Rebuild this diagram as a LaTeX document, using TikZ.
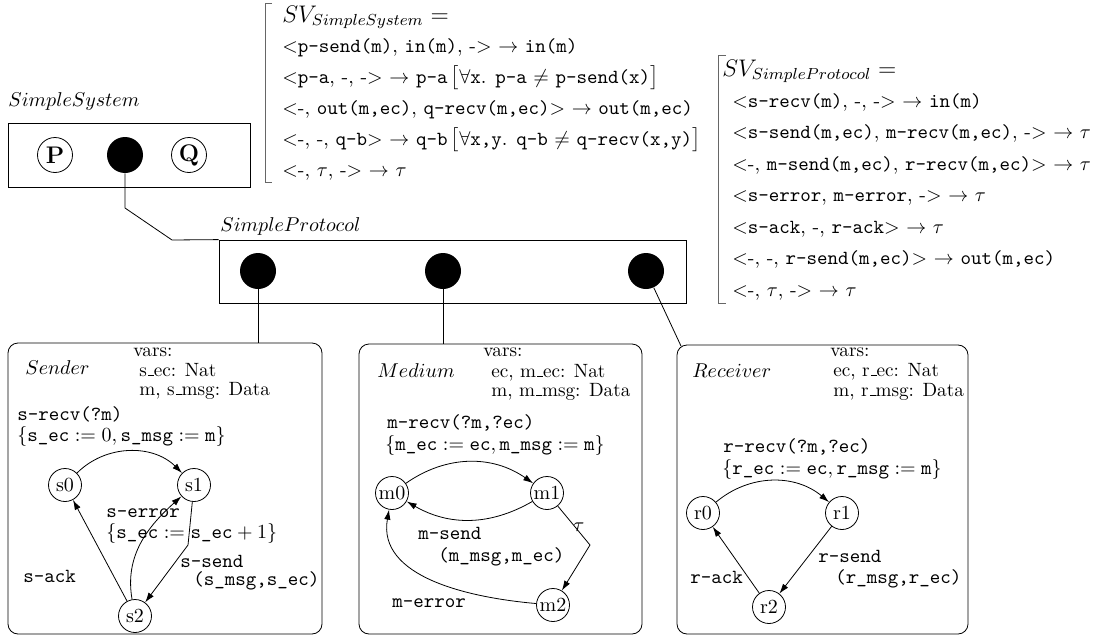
\documentclass[tikz,border=0pt]{standalone}
\usetikzlibrary{automata,arrows.meta}

% short underscore for the roman variable lists
\newcommand{\varus}{\leavevmode\kern.06em\vbox{\hrule width.3em}}

\begin{document}
\begin{tikzpicture}[x=0.5pt, y=-0.5pt, >={Latex[length=5pt,width=3.2pt]},
    loc/.style={state, minimum size=16.5pt, inner sep=0pt},
    port/.style={circle, fill=black, minimum size=18pt, inner sep=0pt},
    proc/.style={circle, draw, minimum size=17.5pt, inner sep=0pt, font=\large\bfseries},
    compbox/.style={draw, rounded corners=5pt},
    lbl/.style={anchor=base west, inner sep=0pt},
    vars/.style={lbl, font=\fontsize{9.6pt}{11pt}\selectfont},
    svbar/.style={draw=black!60}]

   \useasboundingbox (0,0) rectangle (1103,637);

   % the system and its two components
   \node[lbl] (sysName) at (8,106) {$SimpleSystem$};
   \node[draw,
         minimum width=121pt,
         minimum height=32pt] (sys) at (129,155) {};
   \node[proc] (p) at (55,155) {P};
   \node[port] (hub) at (125,155) {};
   \node[proc] (q) at (189,155) {Q};

   \node[lbl] (protoName) at (220,231) {$SimpleProtocol$};
   \node[draw,
         minimum width=233.5pt,
         minimum height=31.5pt] (proto) at (452.5,271.5) {};
   \node[port] (ps) at (258,271) {};
   \node[port] (pm) at (443,271) {};
   \node[port] (pr) at (646,271) {};

   \coordinate (hubDown) at (125,208);
   \coordinate (hubBend) at (172,240);
   \draw (hub) -- (hubDown) -- (hubBend) -- (proto.north west);

   % synchronisation vectors
   \draw[svbar] (272,3) -- (265,3) -- (265,182) -- (272,182);
   \node[lbl, font=\large] (sysSV) at (282,22) {$SV_{SimpleSystem} =$};
   \node[lbl] (sysR1) at (282,52) {$<$\texttt{p-send(m)}, \texttt{in(m)}, -$>$ $\rightarrow$ \texttt{in(m)}};
   \node[lbl] (sysR2) at (282,83) {$<$\texttt{p-a}, -, -$>$ $\rightarrow$ \texttt{p-a}\,$\bigl[\forall$\texttt{x}. \texttt{p-a} $\neq$ \texttt{p-send(x)}$\bigr]$};
   \node[lbl] (sysR3) at (282,114) {$<$-, \texttt{out(m,ec)}, \texttt{q-recv(m,ec)}$>$ $\rightarrow$ \texttt{out(m,ec)}};
   \node[lbl] (sysR4) at (282,145) {$<$-, -, \texttt{q-b}$>$ $\rightarrow$ \texttt{q-b}\,$\bigl[\forall$\texttt{x,y}. \texttt{q-b} $\neq$ \texttt{q-recv(x,y)}$\bigr]$};
   \node[lbl] (sysR5) at (282,176) {$<$-, $\tau$, -$>$ $\rightarrow$ $\tau$};

   \draw[svbar] (726,55) -- (718,55) -- (718,303) -- (726,303);
   \node[lbl, font=\large] (protoSV) at (722,76) {$SV_{SimpleProtocol} =$};
   \node[lbl] (protoR1) at (732,107) {$<$\texttt{s-recv(m)}, -, -$>$ $\rightarrow$ \texttt{in(m)}};
   \node[lbl] (protoR2) at (732,138.5) {$<$\texttt{s-send(m,ec)}, \texttt{m-recv(m,ec)}, -$>$ $\rightarrow$ $\tau$};
   \node[lbl] (protoR3) at (732,170) {$<$-, \texttt{m-send(m,ec)}, \texttt{r-recv(m,ec)}$>$ $\rightarrow$ $\tau$};
   \node[lbl] (protoR4) at (732,201.5) {$<$\texttt{s-error}, \texttt{m-error}, -$>$ $\rightarrow$ $\tau$};
   \node[lbl] (protoR5) at (732,233) {$<$\texttt{s-ack}, -, \texttt{r-ack}$>$ $\rightarrow$ $\tau$};
   \node[lbl] (protoR6) at (732,264.5) {$<$-, -, \texttt{r-send(m,ec)}$>$ $\rightarrow$ \texttt{out(m,ec)}};
   \node[lbl] (protoR7) at (732,296) {$<$-, $\tau$, -$>$ $\rightarrow$ $\tau$};

   % the three processes
   \node[compbox,
         minimum width=157pt,
         minimum height=145.5pt] (sender) at (165,488.5) {};
   \node[compbox,
         minimum width=141.5pt,
         minimum height=145pt] (medium) at (500.5,489) {};
   \node[compbox,
         minimum width=145.5pt,
         minimum height=144.5pt] (receiver) at (822.5,489.5) {};

   \coordinate (rcvTop) at (681,346);
   \draw (ps) -- (ps |- sender.north);
   \draw (pm) -- (pm |- medium.north);
   \draw (pr) -- (rcvTop);

   % Sender
   \node[lbl] (sName) at (25,374) {$Sender$};
   \node[vars] (sVars) at (133,356) {vars:};
   \node[vars] (sVar1) at (139,376) {s\varus ec: Nat};
   \node[vars] (sVar2) at (139,395) {m, s\varus msg: Data};
   \node[loc] (s0) at (65,485) {s0};
   \node[loc] (s1) at (194,485) {s1};
   \node[loc] (s2) at (135,616) {s2};
   \coordinate (sKink) at (188,545);
   \draw[->] (s0) edge[bend left=45] (s1)
             (s2) edge (s0)
             (s2) edge[out=100, in=222] (s1);
   \draw[->] (s1) -- (sKink) -- (s2);
   \node[lbl] (sRecv) at (17,420) {\texttt{s-recv(?m)}};
   \node[lbl] (sRecvA) at (17,441) {$\{\texttt{s\_ec} := 0, \texttt{s\_msg} := \texttt{m}\}$};
   \node[lbl] (sErr) at (106,517) {\texttt{s-error}};
   \node[lbl] (sErrA) at (106,538) {$\{\texttt{s\_ec} := \texttt{s\_ec} + 1\}$};
   \node[lbl] (sSend) at (180,567) {\texttt{s-send}};
   \node[lbl] (sSendA) at (193,585) {\texttt{(s\_msg,s\_ec)}};
   \node[lbl] (sAck) at (23,582) {\texttt{s-ack}};

   % Medium
   \node[lbl] (mName) at (377,377) {$Medium$};
   \node[vars] (mVars) at (483,356) {vars:};
   \node[vars] (mVar1) at (491,377) {ec, m\varus ec: Nat};
   \node[vars] (mVar2) at (491,396) {m, m\varus msg: Data};
   \node[loc] (m0) at (392,493) {m0};
   \node[loc] (m1) at (547,493) {m1};
   \node[loc] (m2) at (553,605) {m2};
   \coordinate (mKink) at (590,545);
   \draw[->] (m0) edge[bend left=35] (m1)
             (m1) edge[bend left=30] (m0)
             (m2) edge[out=175, in=-100] (m0);
   \draw[->] (m1) -- (mKink) -- (m2);
   \node[lbl] (mRecv) at (387,428) {\texttt{m-recv(?m,?ec)}};
   \node[lbl] (mRecvA) at (385,450) {$\{\texttt{m\_ec} := \texttt{ec}, \texttt{m\_msg} := \texttt{m}\}$};
   \node[lbl] (mSend) at (418,539) {\texttt{m-send}};
   \node[lbl] (mSendA) at (438,561) {\texttt{(m\_msg,m\_ec)}};
   \node[lbl] (mTau) at (573,531) {$\tau$};
   \node[lbl] (mErr) at (392,607) {\texttt{m-error}};

   % Receiver
   \node[lbl] (rName) at (692,377) {$Receiver$};
   \node[vars] (rVars) at (830,356) {vars:};
   \node[vars] (rVar1) at (833,376) {ec, r\varus ec: Nat};
   \node[vars] (rVar2) at (833,396) {m, r\varus msg: Data};
   \node[loc] (r0) at (703,513) {r0};
   \node[loc] (r1) at (842,513) {r1};
   \node[loc] (r2) at (769,607) {r2};
   \draw[->] (r0) edge[bend left=40] (r1)
             (r1) edge (r2)
             (r2) edge (r0);
   \node[lbl] (rRecv) at (723,452) {\texttt{r-recv(?m,?ec)}};
   \node[lbl] (rRecvA) at (722,474) {$\{\texttt{r\_ec} := \texttt{ec}, \texttt{r\_msg} := \texttt{m}\}$};
   \node[lbl] (rSend) at (818,562) {\texttt{r-send}};
   \node[lbl] (rSendA) at (835,583) {\texttt{(r\_msg,r\_ec)}};
   \node[lbl] (rAck) at (690,583) {\texttt{r-ack}};
\end{tikzpicture}
\end{document}
